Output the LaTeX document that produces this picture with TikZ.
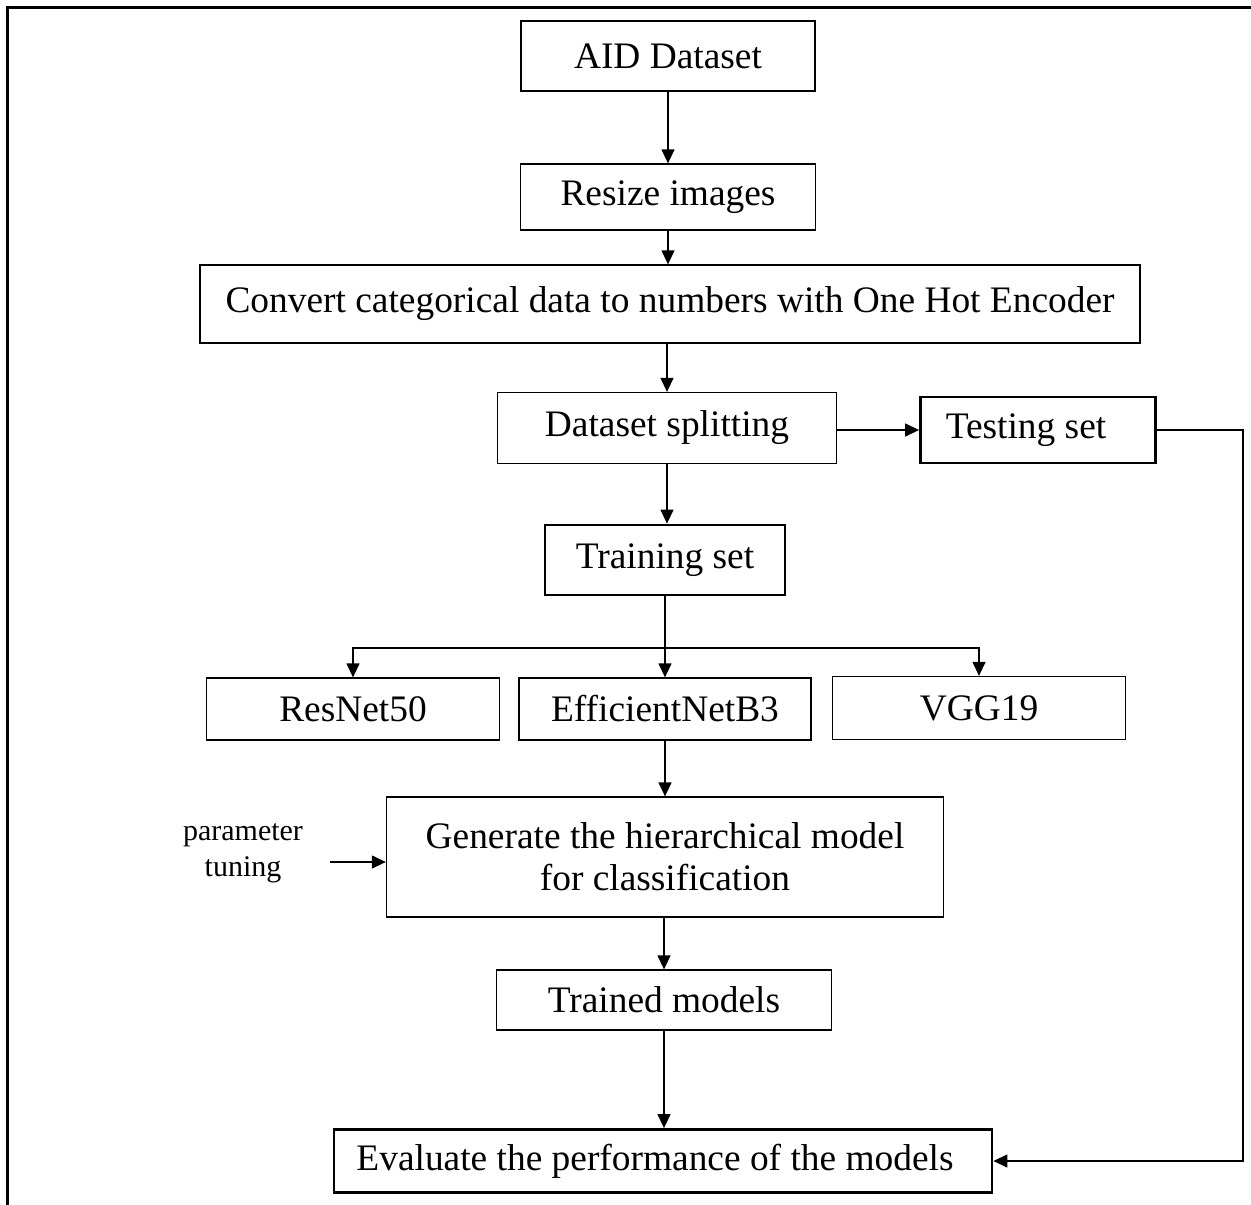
\documentclass[tikz,border=0pt]{standalone}
\usepackage{fontspec}
\setmainfont{Liberation Serif}
\usetikzlibrary{arrows.meta}
\begin{document}
\begin{tikzpicture}[x=1pt,y=-1pt,
  box/.style={draw,line width=1.3pt,inner sep=0pt,font=\fontsize{37.4}{44}\selectfont,anchor=center},
  tbox/.style={box,line width=2.8pt},
  arr/.style={line width=1.3pt,-{Triangle[length=14pt,width=13pt]}},
  ln/.style={line width=1.3pt}]
\useasboundingbox (0,0) rectangle (1251,1205);
\draw[line width=3pt] (7,1205) -- (7,7) -- (1251,7);
\node[box,minimum width=294pt,minimum height=70pt] (aid) at (668,56) {AID Dataset};
\node[box,minimum width=295pt,minimum height=66pt] (resize) at (668,197) {Resize images};
\node[box,minimum width=940pt,minimum height=78pt] (conv) at (670,304) {Convert categorical data to numbers with One Hot Encoder};
\node[box,minimum width=339pt,minimum height=71pt] (split) at (667,428) {Dataset splitting};
\node[tbox,minimum width=235pt,minimum height=66pt] (test) at (1038,430) {Testing set\kern24pt};
\node[tbox,minimum width=240pt,minimum height=70pt] (train) at (665,560) {Training set};
\node[box,minimum width=293pt,minimum height=62pt] (res) at (353,709) {ResNet50};
\node[box,minimum width=292pt,minimum height=62pt] (eff) at (665,709) {EfficientNetB3};
\node[box,minimum width=293pt,minimum height=63pt] (vgg) at (979,708) {VGG19};
\node[box,minimum width=557pt,minimum height=120pt,align=center] (gen) at (665,857) {Generate the hierarchical model\\[-2pt]for classification};
\node[box,minimum width=335pt,minimum height=60pt] (trained) at (664,1000) {Trained models};
\node[tbox,minimum width=658pt,minimum height=63pt] (eval) at (663,1161) {Evaluate the performance of the models\kern16pt};
\node[align=center,font=\fontsize{30}{36}\selectfont,inner sep=0pt] (param) at (243,853) {parameter\\tuning};
\coordinate (pstart) at (330,862);
\coordinate (br) at (665,648);
\coordinate (tr) at (1243,430);
\draw[arr] (aid.south) -- (resize.north);
\draw[arr] (resize.south) -- (resize.south|-conv.north);
\draw[arr] (conv.south-|split.north) -- (split.north);
\draw[arr] (split.east|-test.west) -- (test.west);
\draw[arr] (split.south) -- (split.south|-train.north);
\draw[ln] (train.south) -- (br);
\draw[arr] (br) -- (eff.north);
\draw[arr] (br) -| (res.north);
\draw[arr] (br) -| (vgg.north);
\draw[arr] (eff.south) -- (eff.south|-gen.north);
\draw[arr] (pstart) -- (pstart-|gen.west);
\draw[arr] (gen.south-|trained.north) -- (trained.north);
\draw[arr] (trained.south) -- (trained.south|-eval.north);
\draw[arr] (test.east) -- (tr) |- (eval.east);
\end{tikzpicture}
\end{document}
